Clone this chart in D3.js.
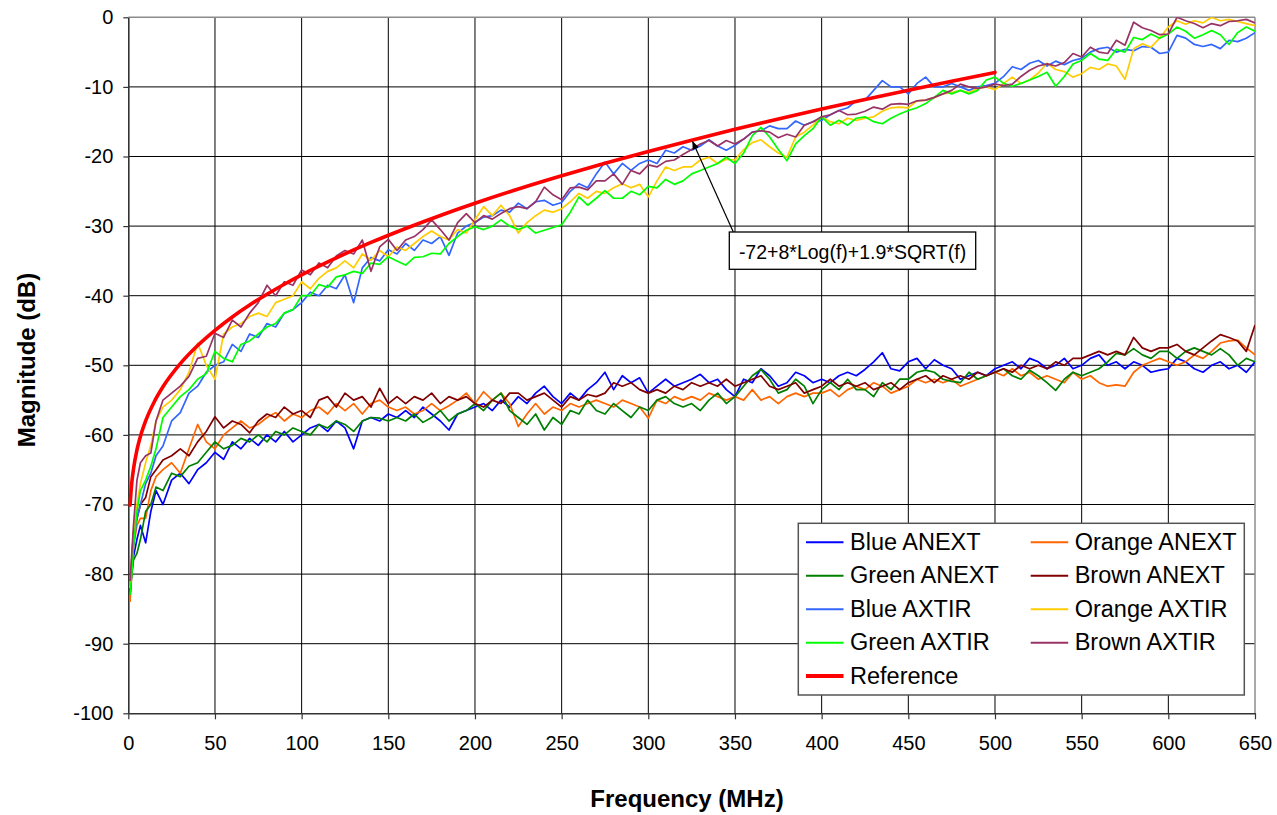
<!DOCTYPE html>
<html><head><meta charset="utf-8">
<script src="https://cdn.jsdelivr.net/npm/d3@7"></script>
<style>
body{margin:0;background:#fff}
svg{display:block}
text{font-family:"Liberation Sans",Arial,sans-serif;fill:#000}
</style>
</head><body>
<svg id="chart" width="1277" height="815"></svg>
<script>
// ---------- DATA ----------
const xTicks = [0,50,100,150,200,250,300,350,400,450,500,550,600,650];
const yTicks = [0,-10,-20,-30,-40,-50,-60,-70,-80,-90,-100];

const freq = [1,2,3,5,7,10,13,16,20,
25,30,35,40,45,50,55,60,65,70,
75,80,85,90,95,100,105,110,115,120,
125,130,135,140,145,150,155,160,165,170,
175,180,185,190,195,200,205,210,215,220,
225,230,235,240,245,250,255,260,265,270,
275,280,285,290,295,300,305,310,315,320,
325,330,335,340,345,350,355,360,365,370,
375,380,385,390,395,400,405,410,415,420,
425,430,435,440,445,450,455,460,465,470,
475,480,485,490,495,500,505,510,515,520,
525,530,535,540,545,550,555,560,565,570,
575,580,585,590,595,600,605,610,615,620,
625,630,635,640,645,650];

const blueANEXT = [-83,-80,-77.5,-75,-73,-75.5,-71,-68,-70,
-66.5,-65.5,-67,-65,-64,-62.5,-63.5,-61,-62,-60.5,
-61.5,-60,-61,-59.5,-61,-60,-59,-58.5,-59.5,-58,
-59,-62,-58,-57.5,-58,-57,-57.5,-56.5,-57.5,-56,
-57,-58,-59.3,-57,-56.5,-56,-55.5,-56.5,-55,-56,
-54.5,-55.5,-54,-53,-54.5,-55.5,-54,-55,-53.5,-52.5,
-51,-53.5,-51.5,-52.5,-51.8,-54,-53,-52,-53,-52.5,
-52,-51.3,-52.5,-52,-53.5,-54.5,-52,-52.5,-50.5,-51.5,
-53,-52.5,-51,-51.5,-52.5,-52,-52.5,-51.5,-51,-51.5,
-50.6,-49.5,-48.2,-50.5,-50.8,-49.5,-49,-50.5,-49.2,-50,
-50.5,-52,-51.5,-51,-51.5,-50.5,-50,-49.5,-50.5,-49,
-49.5,-50.5,-50,-49,-50.5,-50,-49,-48.5,-50,-49.5,
-50.5,-49.5,-50,-51,-50.7,-50.5,-49,-49.5,-50.5,-51,
-50,-49.5,-50.5,-50,-51,-49.5];

const orangeANEXT = [-84,-80,-76,-73,-72,-72,-68,-66,-65,
-64,-65.5,-62,-58.5,-61,-62,-60,-59,-58,-59,
-58.5,-57.5,-56.8,-58,-57,-57.5,-56.5,-56,-57,-55.5,
-56.5,-55.5,-57,-55.5,-55,-56,-56.5,-56,-57,-56.5,
-55.5,-56.5,-55.8,-55,-54,-55.5,-53.8,-55,-54,-55.5,
-58.8,-57,-55.5,-57,-56,-56.5,-55.5,-56,-55.5,-55,
-55.5,-56,-55,-55.5,-56,-57.6,-55,-55.5,-54.5,-55,
-54.5,-55,-54,-54.5,-55,-54.5,-55,-53.5,-55,-54.5,
-55.5,-54.5,-54,-54.5,-54,-54,-53.5,-54.5,-53.5,-53,
-53.5,-52.5,-53,-54,-53.5,-53,-52,-52.5,-52,-52.5,
-52,-53,-52.5,-52,-51.5,-51,-51.5,-50.5,-51.5,-51,
-52,-51.5,-52,-52.5,-51,-52,-51.5,-52.5,-53,-52.8,
-53,-51,-50,-49.5,-49,-49.5,-50,-49.5,-48.5,-49,
-48,-46.8,-46.5,-46.4,-47.5,-48.5];

const greenANEXT = [-82,-80,-78,-77,-75,-71,-70,-67.5,-68,
-65.5,-66,-64.5,-64,-62.5,-61,-62,-61.5,-60.5,-61,
-60,-61,-59.5,-60,-59,-59.5,-60,-58.5,-59,-58,
-58.5,-59.5,-58,-57.5,-57.6,-58,-57.5,-58,-57,-58.2,
-57.5,-56.5,-58,-57,-56.5,-55.5,-56.5,-55,-54,-56.5,
-57.5,-58.5,-57,-59.3,-57.5,-58.5,-56.5,-57,-55,-56.5,
-57,-55.5,-56.5,-57.5,-56,-56.5,-55,-54.5,-55.5,-56,
-55.5,-56.5,-55,-54,-55.5,-54.5,-53,-51.5,-50.6,-52,
-54,-53.5,-52,-53,-55.5,-53.5,-52.5,-53.5,-52,-53.5,
-53.5,-54.5,-52.5,-53.5,-52,-52,-51,-50.7,-51,-52,
-52.3,-52.5,-51,-52,-51.5,-51,-50.5,-51.5,-52,-50.7,
-51.5,-52.5,-53.6,-52,-51,-51.5,-51,-50.5,-49.5,-48.3,
-48.5,-47.6,-48.5,-49,-48,-48,-49,-48,-47.5,-48,
-48.5,-47.6,-48.5,-50,-49,-49.5];

const brownANEXT = [-83,-78,-74,-72,-70,-69,-66,-65,-63.6,
-63,-62,-63,-61,-59.5,-57.4,-59,-58,-58.5,-59.7,
-58,-57,-57.5,-56,-57,-56.5,-57.5,-55,-54.5,-56,
-54,-55,-54.5,-56,-53.3,-55.5,-54.5,-55.5,-54.5,-55,
-54,-55.5,-54.5,-55,-54.5,-55.5,-56,-55,-55.5,-54,
-54,-55,-54.5,-54,-55,-56,-54.5,-55,-54.2,-54.5,
-54,-52.5,-53,-52.5,-53.5,-54,-53.5,-54,-53,-53.5,
-52.5,-53,-52.5,-53,-52,-53,-52.5,-52,-51.5,-53,
-53.5,-53,-52.5,-54,-53.5,-53,-52,-53,-52.5,-53,
-52.5,-53.5,-53,-52.5,-53.5,-52.5,-52,-51.5,-52.5,-51.5,
-52,-51.5,-52,-51,-51.5,-51,-50.5,-51,-50,-50.5,
-50,-50.5,-49.5,-50,-49,-49,-48.5,-48,-48.5,-48,
-48.5,-46,-47.5,-48,-47.5,-47.5,-47,-48,-48.5,-47.5,
-46.5,-45.6,-46,-46.5,-48,-44.2];

const blueAXTIR = [-82,-79,-76,-72,-70,-67,-65.5,-63,-61.6,
-58,-56.8,-54,-53,-51,-50,-49.5,-47,-48,-45.5,
-46,-44,-44.5,-42.5,-42,-41,-39.5,-40,-38.5,-39,
-37,-41,-36,-34.5,-35,-33.4,-34,-32.5,-33.5,-32,
-32.5,-31.5,-34.2,-31,-30,-29.5,-28.7,-28.5,-27.7,-28,
-26.7,-27.5,-26.5,-26.3,-27,-26.6,-25,-23.9,-24.5,-22.5,
-20.8,-22.5,-21,-22,-21,-20.5,-21,-19.1,-19.5,-18.6,
-19.1,-18.5,-17.6,-18.5,-19.1,-18.4,-17.5,-16.5,-16.3,-15.6,
-16,-16,-14.9,-15.5,-15,-14.8,-14,-13.4,-13,-12,
-11.9,-10.5,-9.1,-10,-10,-11,-9.5,-8.6,-10,-10,
-9.5,-10,-10.5,-10,-9.8,-9.5,-8.5,-7.1,-7.5,-6.6,
-6.2,-7,-6.3,-6.8,-6.2,-5.9,-5,-4.5,-4.3,-5,
-4.6,-4.8,-4.2,-4.3,-5.2,-5,-2.6,-3,-3.9,-4.2,
-3.9,-4.5,-3.3,-3.5,-3,-2.2];

const orangeAXTIR = [-82,-78,-74,-70,-67,-64,-61.5,-58,-56,
-55,-53.5,-51,-46.8,-50,-52,-45.5,-44.5,-44,-43,
-42.5,-43,-41,-40.5,-40,-38,-39,-37.5,-36.5,-36,
-35,-36,-34,-34.9,-33.5,-34.4,-33,-33.5,-32.5,-31.5,
-30.7,-31.5,-32,-30.5,-31,-29.1,-27.2,-28.5,-27,-28.5,
-31,-29.5,-28.5,-27.7,-28,-27.5,-26.5,-25.3,-26,-25,
-25.3,-24.5,-23.9,-24.5,-24,-25.8,-23.5,-21.5,-22,-21.5,
-21.5,-20.5,-20.1,-21,-20.4,-20.5,-19,-18,-17.6,-18.6,
-19.5,-20.1,-17.2,-16.5,-15.5,-14.3,-15,-15.3,-14.5,-14.8,
-14.5,-14.3,-13.5,-13,-12.9,-13,-12,-11.9,-11.5,-11,
-10.8,-10.5,-10.8,-10.2,-10,-10.4,-9.5,-8.6,-9.5,-9,
-8,-6.6,-7.5,-7.8,-8.6,-8.1,-7.2,-7.5,-6.7,-7,
-8.9,-4.5,-3.8,-4.3,-3,-1.4,-0.5,-1,-0.5,-0.8,
0,-0.5,-0.3,-0.6,-0.9,-1.2];

const greenAXTIR = [-83,-80,-76,-71,-68,-66.5,-64.5,-62,-57.5,
-56,-54.5,-53.5,-52,-51.2,-48,-49,-49.5,-47,-46.5,
-45.5,-44.5,-44,-42.5,-42,-40,-40,-38.4,-38.8,-37.3,
-37,-36.5,-36.8,-35.3,-35.5,-34.4,-35,-35.6,-34.5,-34.4,
-33.9,-34,-32.5,-31.5,-30.6,-30.1,-30.5,-30,-29.1,-30,
-30.5,-30,-31,-30.6,-30.2,-29.8,-28,-25.8,-27,-26,
-24.9,-26,-26,-25,-25.5,-24.3,-24.5,-23.3,-24,-23.5,
-22.5,-22,-21.5,-21,-20.1,-21,-19.5,-17,-15.8,-17.2,
-19,-20.6,-18.2,-17,-16,-14.3,-15.5,-14.8,-15.5,-14.5,
-14.3,-15,-15.3,-14.5,-13.9,-13.4,-13,-12.4,-11.5,-10.5,
-11,-10.5,-11,-10.5,-9,-8.6,-9.5,-9.9,-9.5,-9,
-8.5,-7.9,-9.9,-8.5,-6.7,-6.2,-5.2,-6,-6.2,-4.6,
-5,-2.9,-3.2,-2.4,-3,-2.4,-1.4,-2,-3,-2.5,
-1.9,-2.5,-3.9,-2.2,-1.4,-2];

const brownAXTIR = [-81,-77,-73,-66.5,-64,-63,-62.6,-58,-55,
-54,-53,-51.6,-49,-48.7,-45.4,-46,-43.5,-44.5,-42.5,
-41,-38.5,-40,-38,-38.5,-36.3,-37,-35.3,-36,-34.3,
-33.5,-34,-32,-36.5,-33,-31.9,-33.5,-32,-31.5,-30.5,
-29.1,-30.5,-32,-29.5,-28.2,-29.5,-28.5,-29,-28.2,-27.5,
-27.2,-27.5,-26.5,-24.4,-25.5,-26.2,-24.5,-24.4,-24.8,-23.5,
-23.5,-22.5,-24,-22,-22.5,-21.2,-21.5,-20.7,-20.5,-19.7,
-19,-18.2,-17.7,-18.5,-17.7,-18.2,-17.5,-16.5,-16.3,-16.5,
-17.3,-16.8,-17.2,-15.5,-15,-14.3,-14,-13.4,-14,-13.9,
-13.5,-12.9,-13.2,-12.5,-12.4,-12.5,-12,-11.9,-11.5,-11,
-10.5,-9.6,-10,-10.2,-10,-9.6,-9.8,-9.6,-8.5,-7.6,
-7,-6.7,-7,-6.5,-5.2,-5.7,-4.3,-5,-5.2,-3.3,
-4,-0.7,-1.5,-1.9,-2.5,-2.4,0,-0.5,-0.9,-1.5,
-0.9,-1.2,-0.6,-0.5,-0.3,-0.8];

const refFreq = [1,2,3,5,7,10,15,20,30,40,50,60,70,80,90,100,120,140,160,180,200,225,250,275,300,325,350,375,400,425,450,475,500];
const refValues = [-70.1,-66.9,-64.89,-62.16,-60.21,-57.99,-55.23,-53.09,-49.77,-47.16,-44.97,-43.05,-41.34,-39.79,-38.35,-37.0,-34.56,-32.35,-30.34,-28.47,-26.72,-24.68,-22.78,-20.98,-19.27,-17.65,-16.1,-14.62,-13.18,-11.8,-10.47,-9.18,-7.92];

const seriesNames = ["Blue ANEXT","Orange ANEXT","Green ANEXT","Brown ANEXT","Blue AXTIR","Orange AXTIR","Green AXTIR","Brown AXTIR","Reference"];
const seriesColors = ["#0000FF","#FF6600","#008000","#800000","#3366FF","#FFCC00","#00FF00","#993366","#FF0000"];
const annotationText = "-72+8*Log(f)+1.9*SQRT(f)";
const annotationFreq = 325.6;

// ---------- CHART ----------
const svg = d3.select("#chart");
const L = 128.3, R = 1255, T = 17.3, B = 713.3;
const x = d3.scaleLinear().domain([0,650]).range([L,R]);
const y = d3.scaleLinear().domain([-100,0]).range([B,T]);

svg.append("defs").append("clipPath").attr("id","plotclip")
  .append("rect").attr("x",L).attr("y",T).attr("width",R-L).attr("height",B-T);

svg.append("defs").append("marker").attr("id","arrow")
  .attr("viewBox","0 0 10 10").attr("refX",9).attr("refY",5)
  .attr("markerWidth",7).attr("markerHeight",7).attr("orient","auto")
  .append("path").attr("d","M0,1 L10,5 L0,9 Z").attr("fill","#000");

// gridlines
const grid = svg.append("g");
grid.selectAll(".vg").data(xTicks.filter(d=>d>0 && d<650)).join("line")
  .attr("x1",d=>x(d)).attr("x2",d=>x(d)).attr("y1",T).attr("y2",B)
  .attr("stroke","#000").attr("stroke-width",1);
grid.selectAll(".hg").data(yTicks.filter(d=>d<0 && d>-100)).join("line")
  .attr("x1",L).attr("x2",R).attr("y1",d=>y(d)).attr("y2",d=>y(d))
  .attr("stroke","#000").attr("stroke-width",1);
// top and right borders (gray)
svg.append("line").attr("x1",L).attr("x2",R).attr("y1",T).attr("y2",T).attr("stroke","#8c8c8c").attr("stroke-width",1.5);
svg.append("line").attr("x1",R).attr("x2",R).attr("y1",T).attr("y2",B).attr("stroke","#8c8c8c").attr("stroke-width",1.5);

// axes
const fmt = d => String(d);
const yAxis = svg.append("g").attr("transform",`translate(${L},0)`)
  .call(d3.axisLeft(y).tickValues(yTicks).tickFormat(fmt).tickSize(5).tickPadding(10).tickSizeOuter(0));
const xAxis = svg.append("g").attr("transform",`translate(0,${B})`)
  .call(d3.axisBottom(x).tickValues(xTicks).tickFormat(fmt).tickSize(6).tickPadding(17).tickSizeOuter(0));
[yAxis,xAxis].forEach(a=>{
  a.select(".domain").attr("stroke","#333").attr("stroke-width",1.6);
  a.selectAll(".tick line").attr("stroke","#333").attr("stroke-width",1.2);
  a.selectAll("text").attr("font-size","20px").attr("font-family","Liberation Sans, Arial, sans-serif").attr("fill","#000");
});

// data lines
const plot = svg.append("g").attr("clip-path","url(#plotclip)");
const allSeries = [blueANEXT,orangeANEXT,greenANEXT,brownANEXT,blueAXTIR,orangeAXTIR,greenAXTIR,brownAXTIR];
const line = d3.line().x(d=>x(d[0])).y(d=>y(d[1]));
allSeries.forEach((vals,i)=>{
  plot.append("path").datum(freq.map((f,j)=>[f,vals[j]]))
    .attr("d",line).attr("fill","none").attr("stroke",seriesColors[i])
    .attr("stroke-width",1.7).attr("stroke-linejoin","round");
});
const refLine = d3.line().x(d=>x(d[0])).y(d=>y(d[1])).curve(d3.curveMonotoneX);
plot.append("path").datum(refFreq.map((f,j)=>[f,refValues[j]]))
  .attr("d",refLine).attr("fill","none").attr("stroke",seriesColors[8])
  .attr("stroke-width",3.6).attr("stroke-linecap","round");

// annotation
const ax = 733.3, ay = 232;
const refAt = refValues[refFreq.indexOf(325)];
svg.append("line").attr("x1",ax).attr("y1",ay)
  .attr("x2",x(annotationFreq)).attr("y2",y(refAt)+1.5)
  .attr("stroke","#000").attr("stroke-width",1.2).attr("marker-end","url(#arrow)");
svg.append("rect").attr("x",729.3).attr("y",232).attr("width",246.4).attr("height",37.3)
  .attr("fill","#fff").attr("stroke","#000").attr("stroke-width",1.3);
svg.append("text").attr("x",852.5).attr("y",258.5).attr("text-anchor","middle")
  .attr("font-size","19.5px").text(annotationText);

// legend
const lg = svg.append("g");
lg.append("rect").attr("x",798.3).attr("y",523.3).attr("width",446).attr("height",171.7)
  .attr("fill","#fff").attr("stroke","#555").attr("stroke-width",1.5);
seriesNames.forEach((n,i)=>{
  const col = i<8 ? i%2 : 0;
  const row = i<8 ? Math.floor(i/2) : 4;
  const lx = col===0 ? 806 : 1030.7;
  const ly = 542.3 + row*33.45;
  lg.append("line").attr("x1",lx).attr("x2",lx+37.5).attr("y1",ly).attr("y2",ly)
    .attr("stroke",seriesColors[i]).attr("stroke-width",i===8?4:2);
  lg.append("text").attr("x",lx+44).attr("y",ly+7.5).attr("font-size","23.5px").text(n);
});

// axis titles
svg.append("text").attr("x",687).attr("y",807).attr("text-anchor","middle")
  .attr("font-size","24px").attr("font-weight","bold").text("Frequency (MHz)");
svg.append("text").attr("transform","translate(35,360) rotate(-90)").attr("text-anchor","middle")
  .attr("font-size","24px").attr("font-weight","bold").text("Magnitude (dB)");
</script>
</body></html>
